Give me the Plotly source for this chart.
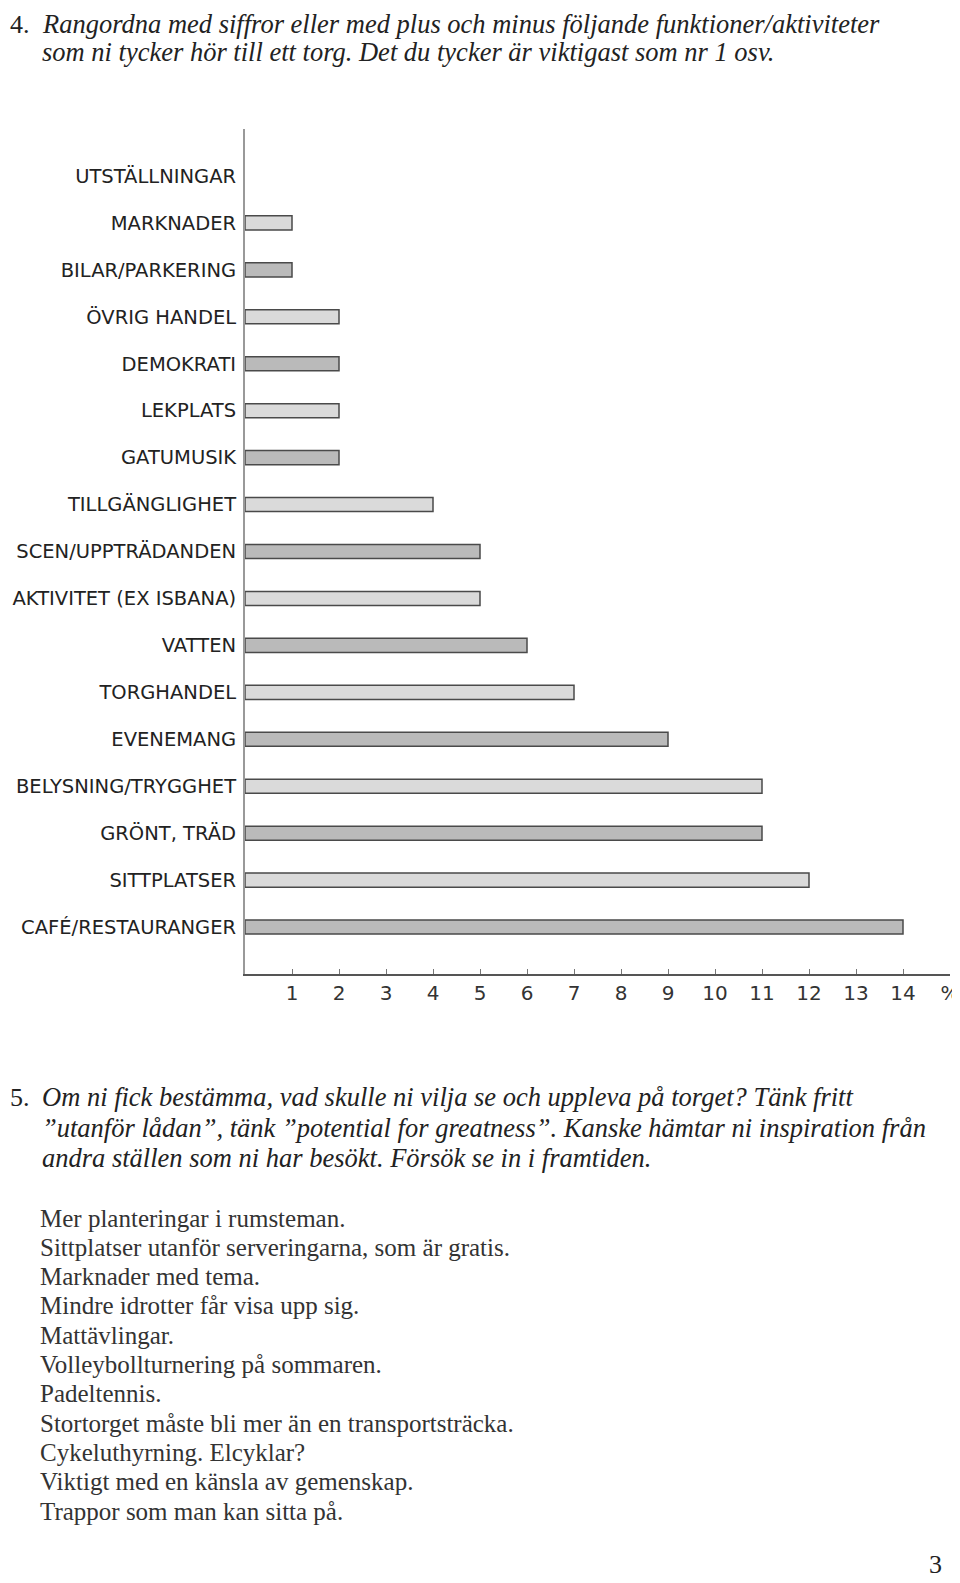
import plotly.graph_objects as go

# chart data (top to bottom)
categories = ["UTSTÄLLNINGAR", "MARKNADER", "BILAR/PARKERING", "ÖVRIG HANDEL", "DEMOKRATI",
              "LEKPLATS", "GATUMUSIK", "TILLGÄNGLIGHET", "SCEN/UPPTRÄDANDEN",
              "AKTIVITET (EX ISBANA)", "VATTEN", "TORGHANDEL", "EVENEMANG",
              "BELYSNING/TRYGGHET", "GRÖNT, TRÄD", "SITTPLATSER", "CAFÉ/RESTAURANGER"]
percent = [0, 1, 1, 2, 2, 2, 2, 4, 5, 5, 6, 7, 9, 11, 11, 12, 14]
tick_values = list(range(1, 16))
tick_labels = [str(v) for v in range(1, 15)] + ["%"]

q4_number = "4."
q4_lines = ["Rangordna med siffror eller med plus och minus följande funktioner/aktiviteter",
            "som ni tycker hör till ett torg. Det du tycker är viktigast som nr 1 osv."]
q5_number = "5."
q5_lines = ["Om ni fick bestämma, vad skulle ni vilja se och uppleva på torget? Tänk fritt",
            "”utanför lådan”, tänk ”potential for greatness”. Kanske hämtar ni inspiration från",
            "andra ställen som ni har besökt. Försök se in i framtiden."]
answers = ["Mer planteringar i rumsteman.",
           "Sittplatser utanför serveringarna, som är gratis.",
           "Marknader med tema.",
           "Mindre idrotter får visa upp sig.",
           "Mattävlingar.",
           "Volleybollturnering på sommaren.",
           "Padeltennis.",
           "Stortorget måste bli mer än en transportsträcka.",
           "Cykeluthyrning. Elcyklar?",
           "Viktigt med en känsla av gemenskap.",
           "Trappor som man kan sitta på."]
page_number = "3"

# the html body has an 8px margin, so the figure is a bit smaller than the window
OFF = 8
W, H = 960 - OFF, 1583 - OFF
ML, MR, MT, MB = 237, 10, 121, 609
PW, PH = W - ML - MR, H - MT - MB

LABEL_FONT = "DejaVu Sans"
HEAD_FONT = "Liberation Serif"
BODY_FONT = "Liberation Serif"


def paper(x, y):
    # x, y are page pixels (window coords) -> paper coords of the figure
    x, y = x - OFF, y - OFF
    return (x - ML) / PW, (H - MB - y) / PH


bar_colors = ["#dadada" if i % 2 else "#bababa" for i in range(len(categories))]
bar_edges = [0 if v == 0 else 1.5 for v in percent]

fig = go.Figure()
fig.add_trace(go.Bar(
    x=percent, y=categories, orientation="h",
    width=0.3,
    marker=dict(color=bar_colors, line=dict(color="#4a4a4a", width=bar_edges)),
    hoverinfo="skip",
))

annotations = []


def add_text(text, x, y, font, size, color="#222", italic=False, anchor="left"):
    px, py = paper(x, y)
    annotations.append(dict(
        text=text, x=px, y=py, xref="paper", yref="paper",
        xanchor=anchor, yanchor="middle", showarrow=False,
        font=dict(family=font, size=size, color=color, style="italic" if italic else "normal"),
    ))


add_text(q4_number, 8, 24, HEAD_FONT, 26)
for i, line in enumerate(q4_lines):
    add_text(line, 40, 24 + i * 28, HEAD_FONT, 26.5, italic=True)

add_text(q5_number, 8, 1097, HEAD_FONT, 26)
for i, line in enumerate(q5_lines):
    add_text(line, 40, 1097 + i * 30.5, HEAD_FONT, 26.5, italic=True)

for i, line in enumerate(answers):
    add_text(line, 38, 1218 + i * 29.3, BODY_FONT, 25, color="#333")

add_text(page_number, 944, 1564, HEAD_FONT, 26, anchor="right")

fig.update_layout(
    width=W, height=H,
    margin=dict(l=ML, r=MR, t=MT, b=MB, autoexpand=False),
    paper_bgcolor="white", plot_bgcolor="white",
    showlegend=False,
    annotations=annotations,
    xaxis=dict(
        range=[0, 15], tickvals=tick_values, ticktext=tick_labels,
        showgrid=False, zeroline=False,
        showline=True, linecolor="#555", linewidth=2,
        ticks="inside", ticklen=5, tickcolor="#777", tickwidth=1,
        tickfont=dict(family=LABEL_FONT, size=20, color="#333"),
        ticklabelstandoff=0,
    ),
    yaxis=dict(
        categoryorder="array", categoryarray=categories,
        range=[17, -1],
        showgrid=False, zeroline=False,
        showline=True, linecolor="#999", linewidth=2,
        ticks="", tickfont=dict(family=LABEL_FONT, size=19.5, color="#222"),
        ticklabelstandoff=3,
    ),
)

fig.write_html("out.html")
